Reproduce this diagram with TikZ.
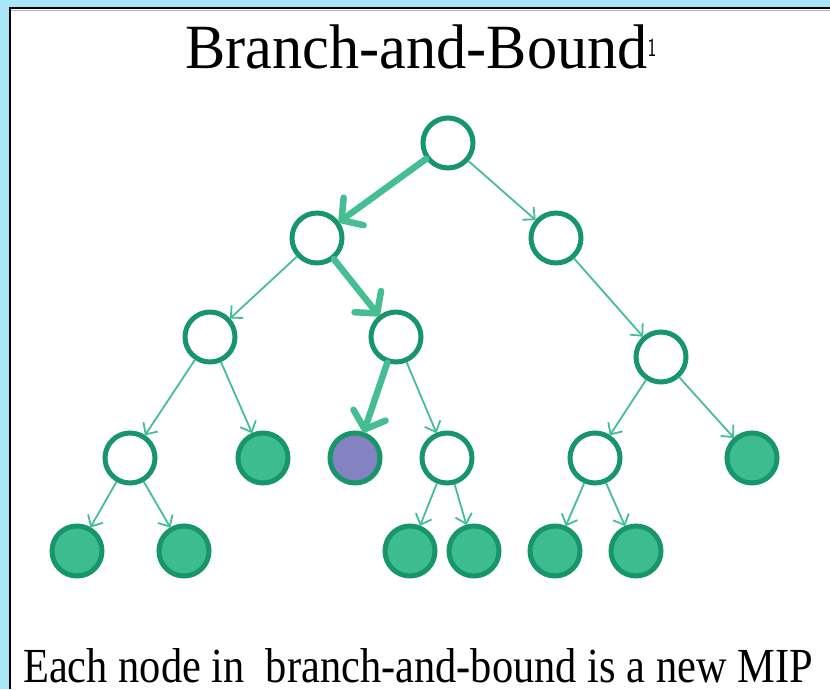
\documentclass[tikz,border=0pt]{standalone}
\usepackage{fontspec}
\setmainfont{Liberation Serif}
\usetikzlibrary{arrows.meta}
\definecolor{framebl}{HTML}{A8E5F7}
\definecolor{ringgr}{HTML}{169669}
\definecolor{fillgr}{HTML}{3DBC8F}
\definecolor{edgegr}{HTML}{45BF92}
\definecolor{purp}{HTML}{8482C0}
\tikzset{
  bbnode/.style={circle, draw=ringgr, line width=5pt, minimum size=50pt, inner sep=0pt, outer sep=2pt},
  opennode/.style={bbnode, fill=white},
  leafnode/.style={bbnode, fill=fillgr},
  curnode/.style={bbnode, fill=purp},
  thinedge/.style={draw=edgegr, line width=1.8pt, -{Straight Barb[length=9pt,width=17pt]}},
  thickedge/.style={draw=edgegr, line width=6.5pt, line cap=round, -{Straight Barb[length=15pt,width=34pt,round]}}
}
\begin{document}
\begin{tikzpicture}[x=1pt,y=-1pt]
\useasboundingbox (0,0) rectangle (830,689);
\fill[framebl] (0,0) rectangle (830,689);
\fill[white] (10,8) rectangle (830,689);
\draw[black, line width=2pt] (10,689) -- (10,8) -- (830,8);
\draw[gray!60, line width=1pt] (11,10.5) -- (830,10.5);

\node[anchor=base, inner sep=0pt] (title) at (421,68) {\scalebox{0.957}[1]{\fontsize{63}{63}\selectfont Branch-and-Bound\raisebox{12pt}{\scalebox{0.75}[1]{\fontsize{26}{26}\selectfont\sffamily 1}}}};

\node[opennode] (r) at (448,143) {};
\node[opennode] (a) at (317,238) {};
\node[opennode] (b) at (556,238) {};
\node[opennode] (c) at (210,337) {};
\node[opennode] (d) at (396,337) {};
\node[opennode] (e) at (661,357) {};
\node[opennode] (f) at (130,458) {};
\node[leafnode] (g) at (263,458) {};
\node[curnode]  (h) at (355,458) {};
\node[opennode] (i) at (447,458) {};
\node[opennode] (j) at (595,458) {};
\node[leafnode] (k) at (752,458) {};
\node[leafnode] (l) at (77,551) {};
\node[leafnode] (m) at (184,551) {};
\node[leafnode] (n) at (410,551) {};
\node[leafnode] (o) at (474,551) {};
\node[leafnode] (p) at (555,551) {};
\node[leafnode] (q) at (636,551) {};

\draw[thickedge] (r) -- (a);
\draw[thinedge] (r) -- (b);
\draw[thinedge] (a) -- (c);
\draw[thickedge] (a) -- (d);
\draw[thinedge] (b) -- (e);
\draw[thinedge] (c) -- (f);
\draw[thinedge] (c) -- (g);
\draw[thickedge] (d) -- (h);
\draw[thinedge] (d) -- (i);
\draw[thinedge] (e) -- (j);
\draw[thinedge] (e) -- (k);
\draw[thinedge] (f) -- (l);
\draw[thinedge] (f) -- (m);
\draw[thinedge] (i) -- (n);
\draw[thinedge] (i) -- (o);
\draw[thinedge] (j) -- (p);
\draw[thinedge] (j) -- (q);

\node[anchor=base west, inner sep=0pt, text depth=0pt] (caption) at (23,682) {\scalebox{0.866}[1]{\fontsize{49}{49}\selectfont Each node in\ \ branch-and-bound is a new MIP}};
\end{tikzpicture}
\end{document}
